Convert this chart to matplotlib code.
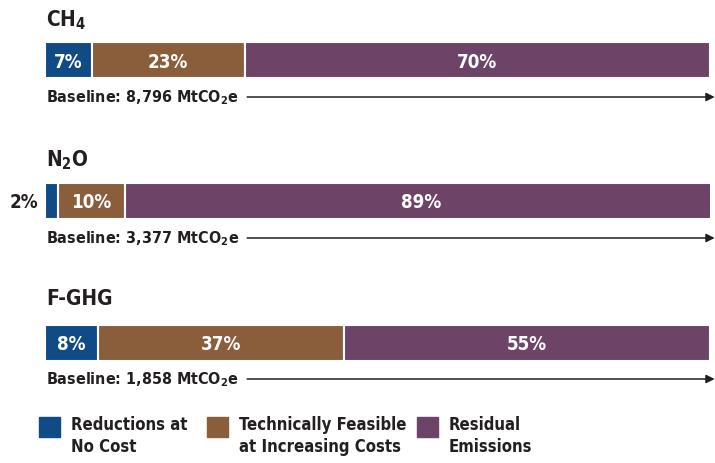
import matplotlib
matplotlib.use("Agg")
import matplotlib.pyplot as plt
from matplotlib.patches import Rectangle

# data
gases = ["CH$_4$", "N$_2$O", "F-GHG"]
no_cost = [7, 2, 8]
feasible = [23, 10, 37]
residual = [70, 89, 55]
baselines = ["8,796", "3,377", "1,858"]
legend_labels = ["Reductions at\nNo Cost", "Technically Feasible\nat Increasing Costs", "Residual\nEmissions"]
colors = ["#104b85", "#8a5d3b", "#6d4467"]

plt.rcParams['font.family'] = ['DejaVu Sans']
plt.rcParams['font.stretch'] = 'condensed'
plt.rcParams['mathtext.fontset'] = 'dejavusans'
plt.rcParams['mathtext.default'] = 'bf'

W, H = 715, 464
fig = plt.figure(figsize=(W / 100, H / 100), dpi=100)
# axes spanning the bar width, y in pixel units
ax = fig.add_axes([45 / W, 0, 665 / W, 1])
ax.set_xlim(0, 100)
ax.set_ylim(H, 0)
ax.axis('off')

bar_y = [61, 201.5, 343.5]
bar_h = 36
title_y = [20, 160, 299]
base_y = [98, 239, 380]
ink = '#231f20'

for i in range(len(gases)):
    left = 0
    for vals, c in zip([no_cost, feasible, residual], colors):
        v = vals[i]
        ax.barh(bar_y[i], v, left=left, height=bar_h, color=c,
                edgecolor='white', linewidth=1.5)
        if v >= 5:
            ax.text(left + v / 2, bar_y[i] + 1, f"{v}%", color='white',
                    ha='center', va='center', fontsize=13.5, fontweight='bold')
        else:
            ax.text(-1.0, bar_y[i] + 1, f"{v}%", color=ink,
                    ha='right', va='center', fontsize=13.5, fontweight='bold')
        left += v
    ax.text(0.2, title_y[i], gases[i], fontsize=15, fontweight='bold',
            color=ink, ha='left', va='center')
    ax.text(0.2, base_y[i], f"Baseline: {baselines[i]} MtCO$_2$e", fontsize=11.5,
            fontweight='bold', color=ink, ha='left', va='center')
    ax.annotate("", xy=(100.7, base_y[i]), xytext=(30.4, base_y[i]),
                annotation_clip=False,
                arrowprops=dict(arrowstyle='-|>,head_length=0.5,head_width=0.25',
                                color=ink, lw=1.1, shrinkA=0, shrinkB=0))

# legend: colour squares with two-line labels, square aligned to the first line
leg_x = [39, 207, 417]
for x0, c, lab in zip(leg_x, colors, legend_labels):
    fig.patches.append(Rectangle((x0 / W, 1 - 438 / H), 21 / W, 20 / H,
                                 transform=fig.transFigure, color=c))
    fig.text((x0 + 32) / W, 1 - 416 / H, lab, fontsize=12, fontweight='bold',
             color=ink, ha='left', va='top', linespacing=1.3)

fig.savefig("out.png", dpi=100)
